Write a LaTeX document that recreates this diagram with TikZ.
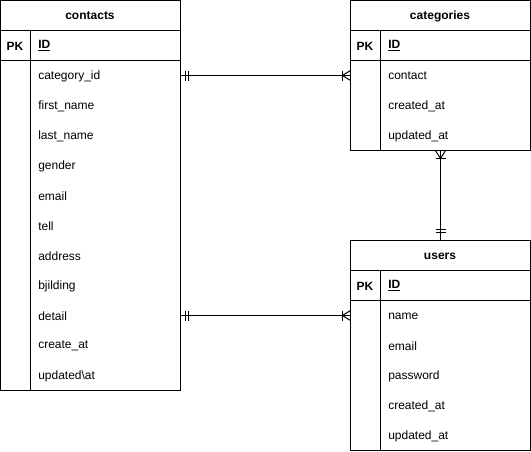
\documentclass[tikz,border=0pt]{standalone}
\usepackage{fontspec}
\setmainfont{Liberation Sans}
\begin{document}
\begin{tikzpicture}[x=0.75pt,y=-0.75pt,
  every node/.style={font=\fontsize{9}{11}\selectfont},
  box/.style={draw=black,line width=0.75pt},
  ttl/.style={font=\fontsize{9}{11}\selectfont\bfseries,anchor=center,inner sep=0pt},
  fld/.style={anchor=west,inner sep=0pt},
  keyfld/.style={anchor=west,inner sep=0pt,font=\fontsize{9}{11}\selectfont\bfseries},
  pkl/.style={anchor=center,inner sep=0pt,font=\fontsize{9}{11}\selectfont\bfseries},
  rel/.style={draw=black,line width=0.75pt},
  ermark/.style={draw=black,line width=0.75pt}]
\useasboundingbox (0,0) rectangle (531,451);
% ---------- contacts ----------
\draw[box] (0.5,0.5) rectangle (180.5,390.5);
\draw[box] (0.5,30.5) -- (180.5,30.5);
\draw[box] (0.5,60.5) -- (180.5,60.5);
\draw[box] (30.5,30.5) -- (30.5,390.5);
\node[ttl] (cT) at (90,16) {contacts};
\node[pkl] (cPK) at (15,46) {PK};
\node[keyfld] (cID) at (38,46) {\underline{ID}};
\node[fld] (c1) at (38,76) {category\_id};
\node[fld] (c2) at (38,106) {first\_name};
\node[fld] (c3) at (38,136) {last\_name};
\node[fld] (c4) at (38,166) {gender};
\node[fld] (c5) at (38,196) {email};
\node[fld] (c6) at (38,226) {tell};
\node[fld] (c7) at (38,256) {address};
\node[fld] (c8) at (38,286) {bjilding};
\node[fld] (c9) at (38,316) {detail};
\node[fld] (c10) at (38,346) {create\_at};
\node[fld] (c11) at (38,376) {updated\textbackslash at};
% ---------- categories ----------
\draw[box] (350.5,0.5) rectangle (530.5,150.5);
\draw[box] (350.5,30.5) -- (530.5,30.5);
\draw[box] (350.5,60.5) -- (530.5,60.5);
\draw[box] (380.5,30.5) -- (380.5,150.5);
\node[ttl] (gT) at (440,16) {categories};
\node[pkl] (gPK) at (365,46) {PK};
\node[keyfld] (gID) at (388,46) {\underline{ID}};
\node[fld] (g1) at (388,76) {contact};
\node[fld] (g2) at (388,106) {created\_at};
\node[fld] (g3) at (388,136) {updated\_at};
% ---------- users ----------
\draw[box] (350.5,240.5) rectangle (530.5,450.5);
\draw[box] (350.5,270.5) -- (530.5,270.5);
\draw[box] (350.5,300.5) -- (530.5,300.5);
\draw[box] (380.5,270.5) -- (380.5,450.5);
\node[ttl] (uT) at (440,256) {users};
\node[pkl] (uPK) at (365,286) {PK};
\node[keyfld] (uID) at (388,286) {\underline{ID}};
\node[fld] (u1) at (388,316) {name};
\node[fld] (u2) at (388,346) {email};
\node[fld] (u3) at (388,376) {password};
\node[fld] (u4) at (388,406) {created\_at};
\node[fld] (u5) at (388,436) {updated\_at};
% ---------- connection points ----------
\coordinate (pA) at (180.5,75.5);
\coordinate (pB) at (350.5,75.5);
\coordinate (pC) at (180.5,315.5);
\coordinate (pD) at (350.5,315.5);
\coordinate (pE) at (440.5,150.5);
\coordinate (pF) at (440.5,240.5);
% ---------- relations ----------
\draw[rel] (pA) -- (pB);
\draw[rel] (pC) -- (pD);
\draw[rel] (pE) -- (pF);
% mandatory-one markers
\foreach \p in {pA,pC}{
  \draw[ermark] ([xshift=3.75pt,yshift=3.75pt]\p) -- ([xshift=3.75pt,yshift=-3.75pt]\p);
  \draw[ermark] ([xshift=6pt,yshift=3.75pt]\p) -- ([xshift=6pt,yshift=-3.75pt]\p);
}
\draw[ermark] ([xshift=-3.75pt,yshift=6pt]pF) -- ([xshift=3.75pt,yshift=6pt]pF);
\draw[ermark] ([xshift=-3.75pt,yshift=8.25pt]pF) -- ([xshift=3.75pt,yshift=8.25pt]pF);
% one-to-many markers
\foreach \p in {pB,pD}{
  \draw[ermark] ([xshift=-6pt,yshift=3.75pt]\p) -- ([xshift=-6pt,yshift=-3.75pt]\p);
  \draw[ermark] ([yshift=3.75pt]\p) -- ([xshift=-6pt]\p) -- ([yshift=-3.75pt]\p);
}
\draw[ermark] ([xshift=-3.75pt,yshift=-6pt]pE) -- ([xshift=3.75pt,yshift=-6pt]pE);
\draw[ermark] ([xshift=-3.75pt]pE) -- ([yshift=-6pt]pE) -- ([xshift=3.75pt]pE);
\end{tikzpicture}
\end{document}
